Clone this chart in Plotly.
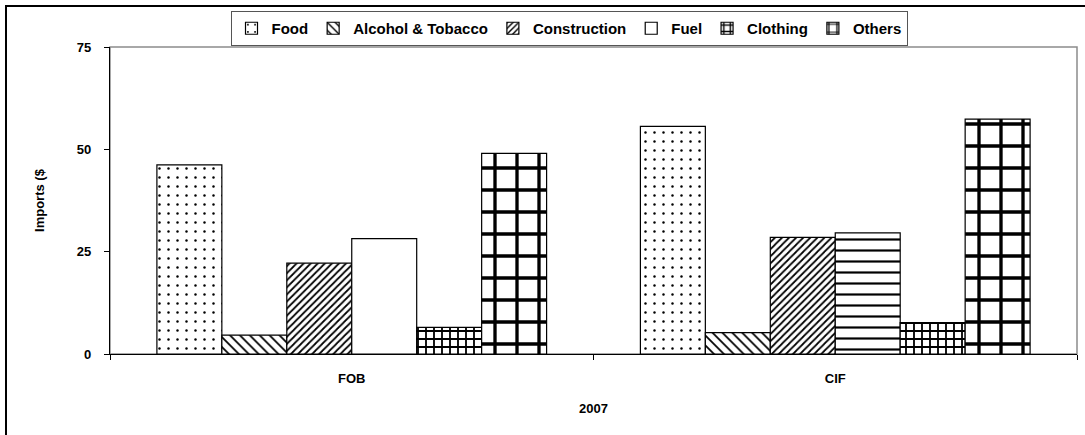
import plotly.graph_objects as go

categories = ["FOB", "CIF"]
series_names = ["Food", "Alcohol & Tobacco", "Construction", "Fuel", "Clothing", "Others"]
food = [46.2, 55.6]
alcohol_tobacco = [4.6, 5.2]
construction = [22.2, 28.5]
fuel = [28.2, 29.6]
clothing = [6.5, 7.7]
others = [49.0, 57.4]
y_ticks = [0, 25, 50, 75]

series_values = [food, alcohol_tobacco, construction, fuel, clothing, others]

patterns = [
    dict(shape=".", size=9, solidity=0.06),
    dict(shape="\\", size=7, solidity=0.25),
    dict(shape="/", size=5, solidity=0.35),
    dict(shape=["", "-"], size=11, solidity=0.2),
    dict(shape="+", size=8, solidity=0.4),
    dict(shape="+", size=22, solidity=0.28),
]

FONT = "Liberation Sans, Arial, sans-serif"

fig = go.Figure()
for name, vals, pat in zip(series_names, series_values, patterns):
    p = dict(pat)
    p.update(fgcolor="black", bgcolor="white", fillmode="replace")
    fig.add_trace(go.Bar(
        x=categories, y=vals, name=name,
        marker=dict(color="white", line=dict(color="black", width=1.2), pattern=p),
    ))

L, T = 110, 47
W, H = 967, 307
fig.update_layout(
    width=1085, height=435,
    margin=dict(l=L, r=1085 - L - W, t=T, b=435 - T - H),
    paper_bgcolor="white", plot_bgcolor="white",
    barmode="group", bargap=0.194, bargroupgap=0,
    font=dict(family=FONT, size=13, color="black", weight="bold"),
    showlegend=True,
    legend=dict(
        orientation="h", x=(569 - L) / W, xanchor="center",
        y=1 + (T - 11) / H, yanchor="top",
        bordercolor="#555555", borderwidth=1, bgcolor="white",
        font=dict(family=FONT, size=15, color="black", weight="bold"),
        itemwidth=30,
    ),
    xaxis=dict(
        type="category", showline=True, linecolor="black", linewidth=1.2,
        ticks="outside", tickson="boundaries", ticklen=5, tickcolor="black",
        tickfont=dict(family=FONT, size=13, weight="bold"),
        ticklabelstandoff=12,
        title=dict(text="2007", font=dict(family=FONT, size=13, weight="bold"), standoff=19),
        showgrid=False, zeroline=False, fixedrange=True,
    ),
    yaxis=dict(
        range=[0, 75], tickvals=y_ticks, showline=True, linecolor="black", linewidth=1.2,
        ticks="outside", ticklen=5, tickcolor="black",
        tickfont=dict(family=FONT, size=13, weight="bold"),
        ticklabelstandoff=10,
        title=dict(text="Imports ($", font=dict(family=FONT, size=13, weight="bold"), standoff=29),
        showgrid=False, zeroline=False, fixedrange=True,
    ),
    shapes=[
        dict(type="rect", xref="paper", yref="paper", x0=0, x1=1, y0=0, y1=1,
             line=dict(color="#8c8c8c", width=1.5), layer="below"),
        dict(type="rect", xref="paper", yref="paper",
             x0=(6 - L) / W, x1=(1095 - L) / W,
             y0=-(450 - T - H) / H, y1=1 + (T - 6) / H,
             line=dict(color="black", width=2), layer="below"),
    ],
)

fig.write_html(
    "out.html",
    config={"displayModeBar": False},
    post_script="document.body.style.margin='0';document.body.style.overflow='hidden';",
)
